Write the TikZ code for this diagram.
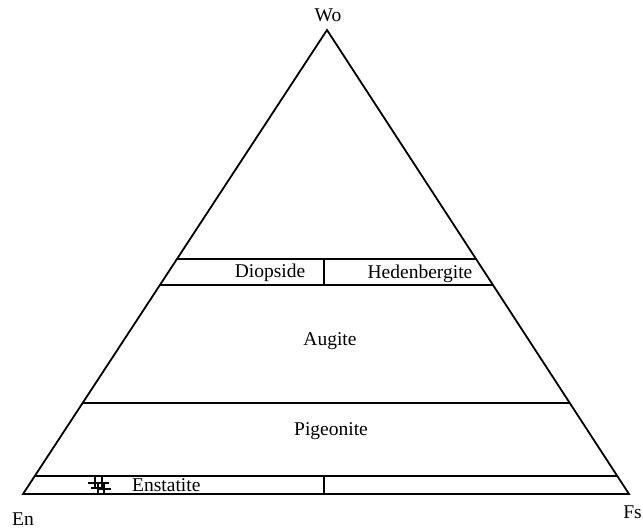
\documentclass[tikz,border=0pt]{standalone}
\usepackage{fontspec}
\setmainfont{Liberation Serif}
\usetikzlibrary{calc}
\begin{document}
\begin{tikzpicture}[x=1pt,y=-1pt,
  edge/.style={line width=1.8pt,line join=miter},
  lbl/.style={font=\fontsize{19.5}{20}\selectfont,inner sep=0pt,anchor=base},
  mk/.style={line width=1.6pt}]
\useasboundingbox (0,0) rectangle (643,531);
\coordinate (Wo) at (327,30);
\coordinate (En) at (23,494);
\coordinate (Fs) at (629,494);
\draw[edge] (En) -- (Wo) -- (Fs) -- cycle;
% horizontal field boundaries
\foreach \n/\t in {a/0.5065,b/0.4504,c/0.196,d/0.0388}{
  \coordinate (L\n) at ($(En)!\t!(Wo)$);
  \coordinate (R\n) at ($(Fs)!\t!(Wo)$);
  \draw[edge] (L\n) -- (R\n);
}
\coordinate (Da) at (324,259);
\coordinate (Db) at (324,285);
\coordinate (Dc) at (324,476);
\coordinate (Dd) at (324,494);
\draw[edge] (Da) -- (Db);
\draw[edge] (Dc) -- (Dd);
% labels
\node[lbl] (tWo) at (328,21) {Wo};
\node[lbl] (tEn) at (23,525) {En};
\node[lbl,anchor=base east] (tFs) at (642,518) {Fs};
\node[lbl] (tDi) at (270,277) {Diopside};
\node[lbl] (tHd) at (420,278) {Hedenbergite};
\node[lbl] (tAu) at (330,345) {Augite};
\node[lbl] (tPi) at (331,435) {Pigeonite};
\node[lbl,anchor=base west] (tEs) at (132,491) {Enstatite};
% data points
\foreach \px/\py in {95/483,102/483,98/488,104/489}{
  \draw[mk] (\px-7,\py) -- (\px+7,\py);
  \draw[mk] (\px,\py-6) -- (\px,\py+6);
}
\end{tikzpicture}
\end{document}
